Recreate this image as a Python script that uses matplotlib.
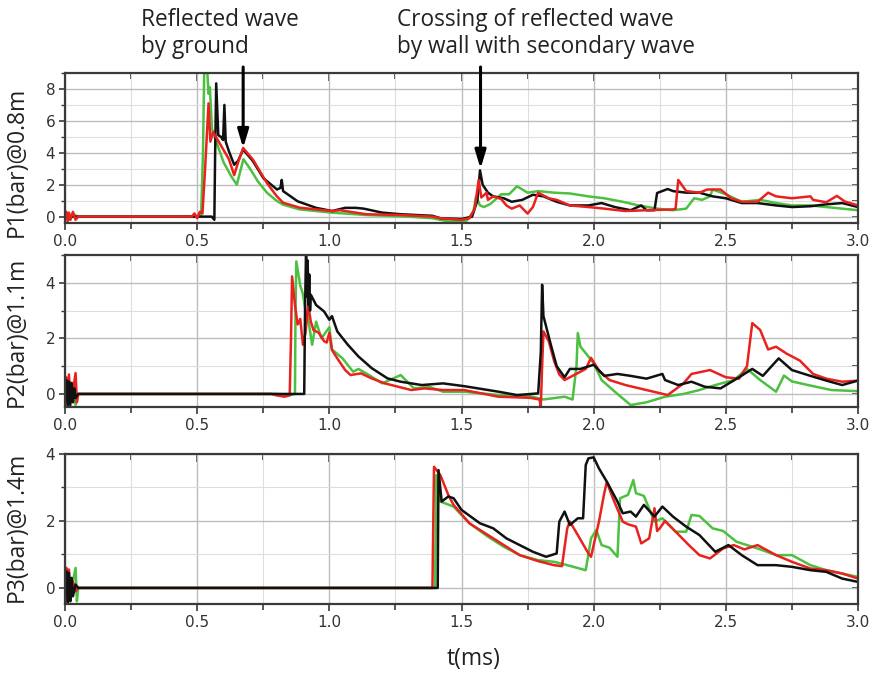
import matplotlib
matplotlib.use("Agg")
import matplotlib.pyplot as plt
from matplotlib.ticker import MultipleLocator, FixedLocator, NullFormatter

# ---------------- data (t in ms, pressure in bar) ----------------
p1_green_t = [0, 0.01, 0.02, 0.03, 0.05, 0.5, 0.515, 0.522, 0.527, 0.537, 0.543, 0.548, 0.556, 0.57, 0.6, 0.63, 0.65, 0.675, 0.7, 0.73, 0.764, 0.8, 0.825, 0.888, 0.95, 1.01, 1.14, 1.3, 1.39, 1.45, 1.52, 1.545, 1.555, 1.57, 1.585, 1.61, 1.65, 1.68, 1.71, 1.75, 1.79, 1.85, 1.91, 1.98, 2.04, 2.11, 2.17, 2.24, 2.3, 2.35, 2.38, 2.41, 2.44, 2.45, 2.5, 2.56, 2.63, 2.69, 2.75, 2.82, 2.88, 2.94, 3.0]
p1_green_v = [0, 0.2, -0.2, 0.15, 0, 0, 0.1, 4, 9.5, 9.5, 7.7, 8.1, 5.5, 4.8, 3.4, 2.5, 2.0, 3.6, 3.0, 2.2, 1.5, 1.0, 0.75, 0.45, 0.35, 0.25, 0.1, 0.0, -0.1, -0.3, -0.25, 0.3, 1.27, 0.7, 0.6, 0.8, 1.4, 1.4, 1.9, 1.5, 1.6, 1.5, 1.45, 1.27, 1.15, 0.93, 0.7, 0.5, 0.4, 0.5, 1.15, 1.05, 1.27, 1.7, 1.4, 0.93, 1.05, 0.85, 0.7, 0.7, 0.6, 0.5, 0.4]

p1_red_t = [0, 0.005, 0.01, 0.015, 0.02, 0.03, 0.04, 0.05, 0.48, 0.49, 0.5, 0.51, 0.52, 0.53, 0.543, 0.55, 0.56, 0.585, 0.62, 0.64, 0.655, 0.674, 0.712, 0.764, 0.8, 0.825, 0.888, 0.95, 1.01, 1.04, 1.14, 1.27, 1.39, 1.42, 1.5, 1.53, 1.55, 1.565, 1.575, 1.595, 1.6, 1.62, 1.65, 1.67, 1.69, 1.72, 1.75, 1.77, 1.79, 1.83, 1.86, 1.91, 1.98, 2.04, 2.12, 2.2, 2.3, 2.31, 2.32, 2.35, 2.4, 2.43, 2.48, 2.52, 2.56, 2.62, 2.66, 2.69, 2.75, 2.82, 2.83, 2.88, 2.92, 2.95, 3.0]
p1_red_v = [0, 0.3, -0.3, 0.25, -0.2, 0.3, -0.2, 0, 0, 0.2, -0.1, 0.3, 0.2, 3.0, 7.1, 4.7, 5.3, 4.6, 3.6, 2.6, 3.4, 4.3, 3.55, 2.1, 1.3, 0.87, 0.56, 0.45, 0.35, 0.4, 0.15, 0.1, 0.0, -0.1, -0.2, -0.1, 0.5, 2.3, 1.2, 1.5, 1.05, 1.27, 1.1, 0.7, 0.5, 0.7, 0.19, 0.6, 1.5, 1.15, 1.05, 0.7, 0.6, 0.5, 0.35, 0.4, 0.45, 0.5, 2.3, 1.6, 1.5, 1.7, 1.7, 1.15, 0.93, 0.93, 1.5, 1.27, 1.15, 1.27, 1.05, 0.9, 1.3, 0.95, 0.7]

p1_black_t = [0, 0.555, 0.565, 0.568, 0.572, 0.58, 0.59, 0.598, 0.603, 0.608, 0.62, 0.64, 0.655, 0.674, 0.71, 0.751, 0.802, 0.815, 0.82, 0.825, 0.88, 0.95, 1.01, 1.06, 1.1, 1.13, 1.2, 1.27, 1.39, 1.42, 1.5, 1.54, 1.56, 1.57, 1.58, 1.6, 1.62, 1.66, 1.69, 1.73, 1.77, 1.81, 1.86, 1.91, 1.98, 2.03, 2.08, 2.14, 2.18, 2.2, 2.23, 2.24, 2.28, 2.3, 2.35, 2.4, 2.45, 2.5, 2.56, 2.62, 2.69, 2.75, 2.82, 2.88, 2.94, 3.0]
p1_black_v = [0, 0, -0.2, 4, 8.35, 5.1, 5.0, 4.8, 7.0, 4.7, 4.1, 3.25, 3.5, 4.2, 3.5, 2.4, 1.7, 1.8, 2.3, 1.6, 0.96, 0.55, 0.35, 0.55, 0.55, 0.5, 0.25, 0.15, 0.05, -0.1, -0.15, 0, 1.0, 2.9, 2.0, 1.5, 1.27, 1.15, 0.93, 1.05, 1.37, 1.27, 0.93, 0.7, 0.7, 0.85, 0.6, 0.4, 0.7, 0.4, 0.4, 1.48, 1.73, 1.6, 1.5, 1.5, 1.27, 1.15, 0.85, 0.85, 0.7, 0.6, 0.65, 0.77, 0.85, 0.6]

p2_red_t = [0, 0.005, 0.01, 0.015, 0.02, 0.03, 0.04, 0.045, 0.05, 0.78, 0.8, 0.83, 0.85, 0.855, 0.859, 0.87, 0.88, 0.89, 0.9, 0.91, 0.92, 0.93, 0.94, 0.96, 0.98, 0.99, 1.0, 1.01, 1.03, 1.06, 1.08, 1.12, 1.16, 1.21, 1.26, 1.31, 1.36, 1.43, 1.51, 1.64, 1.76, 1.795, 1.8, 1.805, 1.81, 1.83, 1.85, 1.87, 1.89, 1.93, 1.97, 1.99, 2.02, 2.06, 2.12, 2.2, 2.28, 2.34, 2.37, 2.44, 2.5, 2.55, 2.58, 2.6, 2.63, 2.66, 2.69, 2.73, 2.78, 2.83, 2.88, 2.94, 3.0]
p2_red_v = [0, 0.6, -0.3, 0.7, -0.2, 0.1, 0.75, -0.3, 0, 0, -0.05, -0.1, -0.05, 2, 4.23, 3.2, 2.5, 2.7, 1.77, 2.2, 3.2, 2.6, 2.3, 2.2, 1.9, 1.85, 2.2, 1.58, 1.28, 0.86, 0.68, 0.74, 0.56, 0.38, 0.26, 0.14, 0.2, 0.14, 0.14, -0.1, -0.14, -0.2, -0.45, 1.0, 2.25, 1.9, 1.2, 0.7, 0.5, 0.7, 0.9, 1.3, 0.84, 0.5, 0.32, 0.14, -0.04, 0.38, 0.72, 0.86, 0.6, 0.55, 1.0, 2.55, 2.3, 1.6, 1.7, 1.45, 1.2, 0.72, 0.55, 0.44, 0.48]

p2_green_t = [0, 0.01, 0.02, 0.03, 0.04, 0.05, 0.8, 0.85, 0.87, 0.872, 0.875, 0.89, 0.9, 0.91, 0.92, 0.935, 0.95, 0.97, 1.0, 1.01, 1.05, 1.09, 1.11, 1.15, 1.2, 1.27, 1.32, 1.38, 1.43, 1.51, 1.64, 1.76, 1.81, 1.89, 1.92, 1.935, 1.94, 1.95, 1.98, 2.0, 2.03, 2.08, 2.14, 2.2, 2.27, 2.34, 2.4, 2.46, 2.53, 2.58, 2.63, 2.69, 2.72, 2.75, 2.84, 2.9, 3.0]
p2_green_v = [0, 0.3, -0.3, 0.2, -0.4, 0, 0, -0.05, 0, 3, 4.77, 3.9, 3.6, 2.97, 2.7, 1.77, 2.6, 2.0, 2.4, 1.6, 1.28, 0.8, 0.9, 0.68, 0.38, 0.68, 0.2, 0.25, 0.08, 0.08, -0.04, -0.08, -0.2, -0.1, -0.2, 1.0, 2.19, 1.7, 1.35, 1.1, 0.5, 0.08, -0.4, -0.3, -0.1, 0.0, 0.14, 0.32, 0.5, 0.9, 0.5, 0.08, 0.66, 0.45, 0.26, 0.14, 0.1]

p2_black_t = [0, 0.005, 0.01, 0.015, 0.02, 0.025, 0.03, 0.035, 0.04, 0.05, 0.905, 0.908, 0.912, 0.915, 0.918, 0.921, 0.924, 0.927, 0.93, 0.95, 0.98, 1.0, 1.01, 1.03, 1.07, 1.11, 1.16, 1.22, 1.27, 1.35, 1.43, 1.51, 1.64, 1.71, 1.79, 1.8, 1.805, 1.81, 1.84, 1.86, 1.89, 1.91, 1.95, 2.0, 2.04, 2.09, 2.14, 2.2, 2.26, 2.27, 2.32, 2.37, 2.42, 2.48, 2.55, 2.6, 2.64, 2.7, 2.75, 2.82, 2.88, 2.94, 3.0]
p2_black_v = [0, 0.5, -0.5, 0.45, -0.4, 0.4, -0.3, 0.2, -0.15, 0, 0, 3.0, 5.2, 3.5, 4.8, 3.2, 4.3, 3.0, 3.57, 3.2, 2.97, 2.67, 2.8, 2.25, 1.77, 1.35, 0.93, 0.56, 0.44, 0.32, 0.38, 0.28, 0.08, -0.04, 0.02, 1.5, 3.93, 2.8, 1.7, 1.0, 0.6, 0.9, 0.9, 1.05, 0.65, 0.72, 0.65, 0.55, 0.72, 0.5, 0.32, 0.44, 0.26, 0.2, 0.6, 0.9, 0.65, 1.28, 0.86, 0.65, 0.48, 0.32, 0.48]

p3_red_t = [0, 0.005, 0.01, 0.015, 0.02, 0.03, 0.04, 0.05, 1.39, 1.396, 1.42, 1.45, 1.47, 1.53, 1.6, 1.66, 1.72, 1.79, 1.85, 1.88, 1.9, 1.91, 1.94, 1.98, 1.99, 2.02, 2.04, 2.05, 2.07, 2.11, 2.13, 2.16, 2.18, 2.21, 2.23, 2.24, 2.25, 2.27, 2.31, 2.36, 2.4, 2.44, 2.49, 2.53, 2.57, 2.62, 2.69, 2.75, 2.82, 2.88, 2.94, 3.0]
p3_red_v = [0, 0.6, -0.4, 0.55, -0.3, 0.2, -0.1, 0, 0, 3.62, 3.37, 2.78, 2.48, 1.93, 1.58, 1.28, 0.98, 0.8, 0.68, 0.65, 1.78, 1.98, 1.58, 1.03, 0.93, 1.98, 2.83, 3.17, 2.73, 1.98, 1.9, 1.83, 1.33, 1.48, 2.38, 1.7, 1.78, 2.0, 1.68, 1.28, 0.98, 0.88, 1.18, 1.28, 1.15, 1.28, 0.98, 0.78, 0.58, 0.53, 0.43, 0.28]

p3_green_t = [0, 0.01, 0.02, 0.03, 0.04, 0.045, 0.05, 1.4, 1.405, 1.42, 1.47, 1.53, 1.6, 1.66, 1.72, 1.79, 1.85, 1.9, 1.97, 1.99, 2.01, 2.03, 2.06, 2.09, 2.1, 2.13, 2.15, 2.16, 2.19, 2.23, 2.26, 2.31, 2.35, 2.37, 2.4, 2.45, 2.49, 2.54, 2.62, 2.69, 2.75, 2.82, 2.88, 2.94, 3.0]
p3_green_v = [0, 0.3, -0.3, 0.2, 0.6, -0.4, 0, 0, 3.37, 2.58, 2.43, 1.93, 1.53, 1.23, 0.98, 0.83, 0.78, 0.68, 0.53, 1.48, 1.73, 1.28, 1.2, 0.93, 2.68, 2.78, 3.22, 2.83, 2.75, 1.98, 2.08, 1.68, 1.68, 2.18, 2.15, 1.78, 1.7, 1.38, 1.18, 0.98, 0.98, 0.68, 0.53, 0.43, 0.33]

p3_black_t = [0, 0.005, 0.01, 0.015, 0.02, 0.025, 0.03, 0.04, 0.05, 1.41, 1.413, 1.425, 1.45, 1.47, 1.5, 1.57, 1.62, 1.67, 1.72, 1.77, 1.82, 1.86, 1.87, 1.89, 1.91, 1.94, 1.96, 1.97, 1.98, 2.0, 2.02, 2.05, 2.09, 2.11, 2.14, 2.16, 2.19, 2.23, 2.26, 2.3, 2.35, 2.4, 2.46, 2.51, 2.56, 2.62, 2.69, 2.75, 2.82, 2.88, 2.94, 3.0]
p3_black_v = [0, 0.5, -0.5, 0.45, -0.4, 0.3, -0.25, 0.1, 0, 0, 3.52, 2.58, 2.73, 2.68, 2.33, 1.93, 1.78, 1.48, 1.28, 1.08, 0.93, 1.03, 1.98, 2.28, 1.88, 2.08, 2.08, 3.67, 3.87, 3.9, 3.57, 3.17, 2.58, 2.23, 2.28, 2.13, 2.48, 2.13, 2.43, 2.13, 1.83, 1.58, 1.08, 1.28, 0.98, 0.68, 0.68, 0.63, 0.53, 0.48, 0.28, 0.18]

x_ticks = [0.0, 0.5, 1.0, 1.5, 2.0, 2.5, 3.0]
x_ticklabels = ["0.0", "0.5", "1.0", "1.5", "2.0", "2.5", "3.0"]
ylabels = ["P1(bar)@0.8m", "P2(bar)@1.1m", "P3(bar)@1.4m"]
y_ticks = [[0, 2, 4, 6, 8], [0, 2, 4], [0, 2, 4]]
y_limits = [(-0.4, 9.0), (-0.47, 5.0), (-0.48, 4.0)]
arrow_t = [0.674, 1.572]
arrow_v = [4.3, 3.0]
note1 = "Reflected wave\nby ground"
note2 = "Crossing of reflected wave\nby wall with secondary wave"
xlabel = "t(ms)"

# ---------------- styling ----------------
GREEN = "#4cc040"
RED = "#e8221e"
BLACK = "#111111"
SPINE = "#3a3a3a"
TICKFONT = "DejaVu Sans"
LABELFONT = "Open Sans"

W, H = 877, 673
fig = plt.figure(figsize=(W / 100, H / 100), dpi=100)

# axes boxes in pixels: (left, top, right, bottom)
boxes = [(65, 73, 858, 223), (65, 255, 858, 407), (65, 454, 858, 604)]
label_centers = [162, 332, 527]

series = [
    [(p1_green_t, p1_green_v, GREEN), (p1_black_t, p1_black_v, BLACK), (p1_red_t, p1_red_v, RED)],
    [(p2_green_t, p2_green_v, GREEN), (p2_red_t, p2_red_v, RED), (p2_black_t, p2_black_v, BLACK)],
    [(p3_green_t, p3_green_v, GREEN), (p3_red_t, p3_red_v, RED), (p3_black_t, p3_black_v, BLACK)],
]

axes = []
for i, (l, t, r, b) in enumerate(boxes):
    ax = fig.add_axes([l / W, 1 - b / H, (r - l) / W, (b - t) / H])
    axes.append(ax)
    for xs, ys, c in series[i]:
        ax.plot(xs, ys, color=c, lw=1.8, solid_joinstyle="round", zorder=3)
    ax.set_xlim(0, 3.0)
    ax.set_ylim(*y_limits[i])

    # grid
    ax.xaxis.set_major_locator(FixedLocator(x_ticks))
    ax.xaxis.set_minor_locator(MultipleLocator(0.25))
    ax.yaxis.set_major_locator(FixedLocator(y_ticks[i]))
    ax.yaxis.set_minor_locator(MultipleLocator(1))
    ax.grid(True, which="major", color="#bdbdbd", lw=1.0, zorder=0)
    ax.grid(True, which="minor", color="#dedede", lw=0.8, zorder=0)

    ax.set_xticklabels(x_ticklabels)
    ax.tick_params(axis="x", which="major", direction="out", length=5, width=1.2,
                   color=SPINE, labelsize=11, labelcolor="#333333", pad=3)
    ax.tick_params(axis="x", which="minor", direction="out", length=4, width=1.2, color=SPINE)
    ax.tick_params(axis="y", which="major", direction="out", length=4, width=1.2,
                   color=SPINE, labelsize=11, labelcolor="#333333", pad=3)
    ax.tick_params(axis="y", which="minor", direction="out", length=3, width=1.0, color=SPINE)
    for lab in ax.get_xticklabels() + ax.get_yticklabels():
        lab.set_fontfamily(TICKFONT)

    # inward ticks on top and right
    top = ax.secondary_xaxis("top")
    top.xaxis.set_major_locator(FixedLocator(x_ticks))
    top.xaxis.set_minor_locator(MultipleLocator(0.25))
    top.xaxis.set_major_formatter(NullFormatter())
    top.tick_params(which="major", direction="in", length=6, width=1.2, color=SPINE)
    top.tick_params(which="minor", direction="in", length=4, width=1.2, color=SPINE)
    top.spines["top"].set_visible(False)
    right = ax.secondary_yaxis("right")
    right.yaxis.set_major_locator(MultipleLocator(1))
    right.yaxis.set_major_formatter(NullFormatter())
    right.tick_params(which="major", direction="in", length=4, width=1.2, color=SPINE)
    right.spines["right"].set_visible(False)

    for s in ax.spines.values():
        s.set_color(SPINE)
        s.set_linewidth(1.6)
        s.set_zorder(5)

    fig.text(17 / W, 1 - label_centers[i] / H, ylabels[i], rotation=90,
             ha="center", va="center", fontsize=16.5, family=LABELFONT, color="#222222")

# annotation arrows
for t_a, v_a in zip(arrow_t, arrow_v):
    axes[0].annotate("", xy=(t_a, v_a), xycoords="data",
                     xytext=(t_a, H - 67), textcoords=("data", "figure pixels"),
                     arrowprops=dict(arrowstyle="-|>,head_length=1.1,head_width=0.33",
                                     color="black", lw=2.2, shrinkA=0, shrinkB=0),
                     annotation_clip=False, zorder=6)

fig.text(141 / W, 1 - 8 / H, note1, ha="left", va="top", fontsize=16.3,
         family=LABELFONT, color="#222222", linespacing=1.15)
fig.text(397 / W, 1 - 8 / H, note2, ha="left", va="top", fontsize=16.3,
         family=LABELFONT, color="#222222", linespacing=1.15)
fig.text(474 / W, 1 - 659 / H, xlabel, ha="center", va="center", fontsize=16.5,
         family=LABELFONT, color="#222222")

fig.savefig("out.png", dpi=100, facecolor="white")
